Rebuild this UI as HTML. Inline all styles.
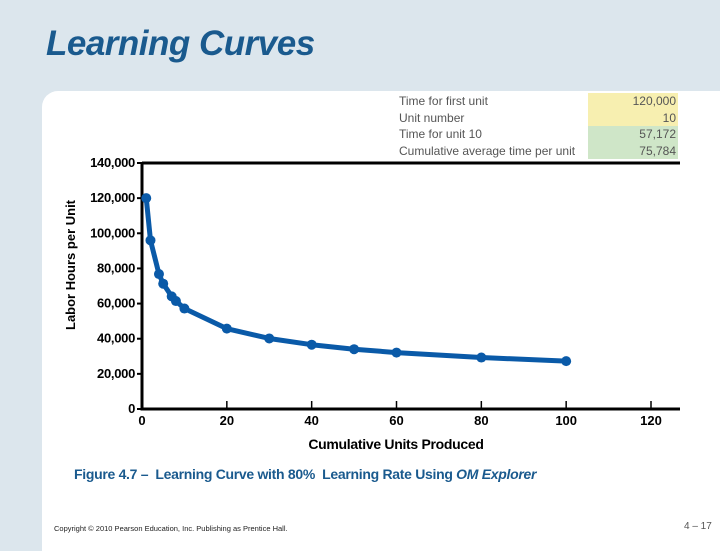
<!DOCTYPE html>
<html><head><meta charset="utf-8"><style>
body{margin:0;width:720px;height:540px;overflow:hidden;background:#dce6ed;font-family:"Liberation Sans",sans-serif;position:relative}
.panel{position:absolute;left:42px;top:91px;width:700px;height:460px;background:#fff;border-top-left-radius:16px}
</style></head><body>
<div style="position:absolute;inset:0"></div>
<div class="panel"></div>
<div style="position:absolute;left:46px;top:24px;font-size:35px;font-style:italic;font-weight:bold;color:#1a5a8e;letter-spacing:-0.5px">Learning Curves</div>
<div style="position:absolute;left:396px;top:93px;width:282px;font-size:12px;color:#555;line-height:16.5px">
 <div style="display:flex"><div style="flex:1;padding-left:3px">Time for first unit</div><div style="width:88px;background:#f7efb0;text-align:right;padding-right:2px">120,000</div></div>
 <div style="display:flex"><div style="flex:1;padding-left:3px">Unit number</div><div style="width:88px;background:#f7efb0;text-align:right;padding-right:2px">10</div></div>
 <div style="display:flex"><div style="flex:1;padding-left:3px">Time for unit 10</div><div style="width:88px;background:#cfe6c8;text-align:right;padding-right:2px">57,172</div></div>
 <div style="display:flex"><div style="flex:1;padding-left:3px">Cumulative average time per unit</div><div style="width:88px;background:#cfe6c8;text-align:right;padding-right:2px">75,784</div></div>
</div>
<svg id="chart" width="720" height="540" style="position:absolute;left:0;top:0"></svg>
<div style="position:absolute;left:74px;top:466px;font-size:14px;font-weight:bold;color:#1a5a8e;letter-spacing:-0.3px">Figure 4.7 – &nbsp;Learning Curve with 80% &nbsp;Learning Rate Using <i>OM Explorer</i></div>
<div style="position:absolute;left:54px;top:524px;font-size:7.5px;color:#222">Copyright © 2010 Pearson Education, Inc. Publishing as Prentice Hall.</div>
<div style="position:absolute;left:684px;top:521px;font-size:10px;color:#555">4 – 17</div>
<script>
const units=[1,2,4,5,7,8,10,20,30,40,50,60,80,100];
const hours=[120000,96000,76800,71300,64100,61440,57172,45740,40140,36590,34030,32110,29280,27250];
const xTicks=[0,20,40,60,80,100,120];
const yTicks=[0,20000,40000,60000,80000,100000,120000,140000];
const NS="http://www.w3.org/2000/svg",svg=document.getElementById('chart');
const X0=142,XS=(651-142)/120,Y0=409,YS=(409-163)/140000;
const x=v=>X0+v*XS,y=v=>Y0-v*YS;
function mk(t,a){const e=document.createElementNS(NS,t);for(const k in a)e.setAttribute(k,a[k]);svg.appendChild(e);return e;}
const frame=mk('path',{d:`M${x(0)},${y(140000)}H680M${x(0)},${y(140000)}V${y(0)}H680`,stroke:'#000','stroke-width':3,fill:'none'});

yTicks.forEach(v=>{
 const t=mk('line',{x1:x(0)-5,x2:x(0),y1:y(v),y2:y(v),stroke:'#000','stroke-width':2});
 
 const l=mk('text',{x:x(0)-7,y:y(v)+4,'text-anchor':'end','font-size':13,'font-weight':'bold','letter-spacing':'-0.3','font-family':'Liberation Sans, sans-serif'});
 l.textContent=v.toLocaleString('en-US');
 
});
xTicks.forEach(v=>{
 const t=mk('line',{x1:x(v),x2:x(v),y1:y(0)-8,y2:y(0),stroke:'#000','stroke-width':1.5});
 
 const l=mk('text',{x:x(v),y:y(0)+16,'text-anchor':'middle','font-size':13,'font-weight':'bold','font-family':'Liberation Sans, sans-serif'});
 l.textContent=v;
 
});
const line=mk('polyline',{points:units.map((u,i)=>x(u)+','+y(hours[i])).join(' '),fill:'none',stroke:'#0a5aa8','stroke-width':5,'stroke-linejoin':'round'});

units.forEach((u,i)=>{
 const c=mk('circle',{cx:x(u),cy:y(hours[i]),r:5,fill:'#0a5aa8'});
 
});
const xt=mk('text',{x:396,y:449,'text-anchor':'middle','font-size':14,'font-weight':'bold','letter-spacing':'-0.3','font-family':'Liberation Sans, sans-serif'});
xt.textContent='Cumulative Units Produced';

const yt=mk('text',{x:0,y:0,'text-anchor':'middle','font-size':13,'font-weight':'bold','font-family':'Liberation Sans, sans-serif',transform:'translate(75,265) rotate(-90)'});
yt.textContent='Labor Hours per Unit';

</script>
</body></html>
